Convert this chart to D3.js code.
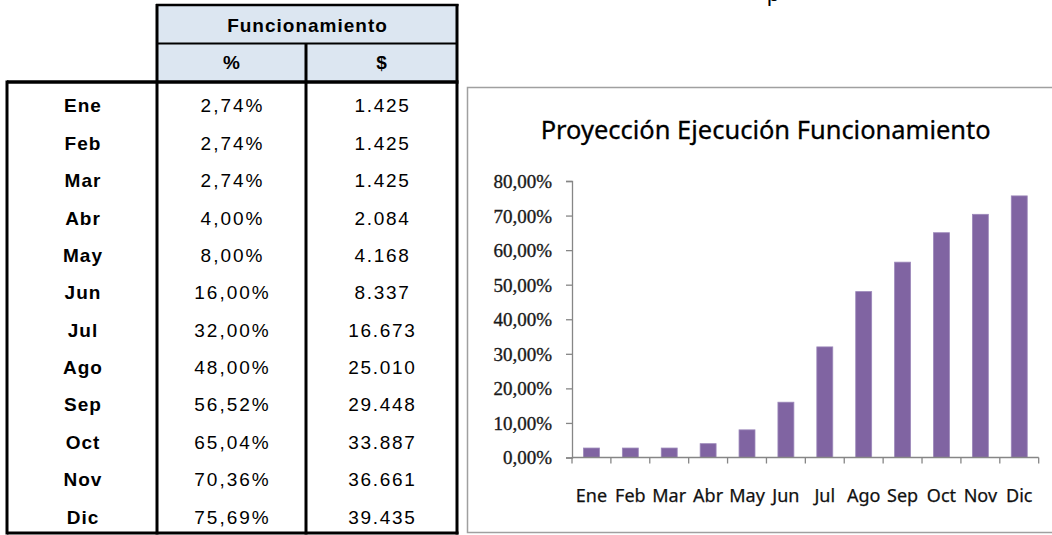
<!DOCTYPE html>
<meta charset="utf-8">
<script src="https://d3js.org/d3.v7.min.js"></script>
<style>
  body { margin: 0; background: #fff; }
  .tbl text { font-family: 'Liberation Sans', Arial, sans-serif; font-size: 19px; fill: #000; }
  .ylab text { font-family: 'Liberation Serif', serif; font-size: 19px; fill: #1a1a1a; stroke: #1a1a1a; stroke-width: 0.35px; }
</style>
<body>
<div id="my_dataviz"></div>
<script>

var months  = ["Ene", "Feb", "Mar", "Abr", "May", "Jun", "Jul", "Ago", "Sep", "Oct", "Nov", "Dic"];
var pct     = [2.74, 2.74, 2.74, 4.00, 8.00, 16.00, 32.00, 48.00, 56.52, 65.04, 70.36, 75.69];
var amount  = [1425, 1425, 1425, 2084, 4168, 8337, 16673, 25010, 29448, 33887, 36661, 39435];
var yTicks  = [0, 10, 20, 30, 40, 50, 60, 70, 80];
var header  = "Funcionamiento";
var subHead = ["%", "$"];
var title   = "Proyección Ejecución Funcionamiento";

// spanish number format: 2,74  /  1.425
var es = d3.formatLocale({decimal: ",", thousands: ".", grouping: [3], currency: ["$", ""]});
var fPct = function(v) { return es.format(".2f")(v) + "%"; };
var fAmt = es.format(",.0f");

var svg = d3.select("#my_dataviz")
  .append("svg")
    .attr("width", 1052)
    .attr("height", 535);

// ---------------- table ----------------
var tbl = svg.append("g").attr("class", "tbl");

var colX = [7, 157, 306, 457];   // column borders
var row = d3.scaleBand().domain(months).range([80, 528.5]);

// header fill
tbl.append("rect")
  .attr("x", colX[1]).attr("y", 5)
  .attr("width", colX[3] - colX[1]).attr("height", 77)
  .attr("fill", "#dce6f1");

tbl.append("text")
  .attr("x", (colX[1] + colX[3]) / 2 + 0.5).attr("y", 32)
  .attr("text-anchor", "middle")
  .style("font-weight", "bold").style("letter-spacing", "1px")
  .text(header);

tbl.selectAll(".sub")
  .data(subHead)
  .enter().append("text")
    .attr("x", function(d, i) { return (colX[i + 1] + colX[i + 2]) / 2; })
    .attr("y", 68.5)
    .attr("text-anchor", "middle")
    .style("font-weight", "bold")
    .text(function(d) { return d; });

// body rows
var rows = tbl.selectAll(".row")
  .data(months)
  .enter().append("g")
    .attr("transform", function(d) { return "translate(0," + (row(d) + row.bandwidth() - 5) + ")"; });

rows.append("text")
  .attr("x", (colX[0] + colX[1]) / 2 + 1)
  .attr("text-anchor", "middle")
  .style("font-weight", "bold").style("letter-spacing", "1px")
  .text(function(d) { return d; });

rows.append("text")
  .attr("x", (colX[1] + colX[2]) / 2 + 1)
  .attr("text-anchor", "middle")
  .style("letter-spacing", "2px")
  .text(function(d, i) { return fPct(pct[i]); });

rows.append("text")
  .attr("x", (colX[2] + colX[3]) / 2 + 1)
  .attr("text-anchor", "middle")
  .style("letter-spacing", "1.7px")
  .text(function(d, i) { return fAmt(amount[i]); });

// borders
var lines = [
  [colX[0], 82, colX[3] + 1.5, 82, 3.5],
  [colX[0], 533, colX[3] + 1.5, 533, 3],
  [colX[1] - 1, 5, colX[3] + 1.5, 5, 2.5],
  [colX[1], 43.5, colX[3], 43.5, 2],
  [colX[0], 80.5, colX[0], 534.5, 3],
  [colX[1], 4, colX[1], 534.5, 3],
  [colX[2], 43.5, colX[2], 534.5, 3],
  [colX[3], 4, colX[3], 534.5, 3]
];
tbl.selectAll(".border")
  .data(lines)
  .enter().append("line")
    .attr("x1", function(d) { return d[0]; })
    .attr("y1", function(d) { return d[1]; })
    .attr("x2", function(d) { return d[2]; })
    .attr("y2", function(d) { return d[3]; })
    .attr("stroke", "#000")
    .attr("stroke-width", function(d) { return d[4]; });

// cut-off letter at the top of the page (only its descender shows)
svg.append("text")
  .attr("x", 773).attr("y", 0.5)
  .attr("text-anchor", "middle")
  .style("font-family", "'Liberation Sans', Arial, sans-serif")
  .style("font-size", "22px")
  .text("p");

// ---------------- chart ----------------
svg.append("rect")
  .attr("x", 467.5).attr("y", 87.5)
  .attr("width", 620).attr("height", 445)
  .attr("fill", "#fff")
  .attr("stroke", "#a0a0a0")
  .attr("stroke-width", 1.5);

svg.append("text")
  .attr("x", 765.7).attr("y", 138.5)
  .attr("text-anchor", "middle")
  .attr("textLength", 450)
  .attr("lengthAdjust", "spacingAndGlyphs")
  .style("font-family", "'Noto Sans', 'Open Sans', sans-serif")
  .style("font-size", "26px")
  .style("fill", "#000")
  .style("stroke", "#000")
  .style("stroke-width", "0.3px")
  .text(title);

var x = d3.scaleBand()
  .domain(months)
  .range([572, 1038.7])
  .paddingInner(0.59)
  .paddingOuter(0.295);

var y = d3.scaleLinear()
  .domain([0, 80])
  .range([457.5, 181]);

// Y axis
var yAxis = svg.append("g")
  .attr("class", "ylab")
  .attr("transform", "translate(572,0)")
  .call(d3.axisLeft(y).tickValues(yTicks).tickSize(6).tickPadding(14).tickFormat(fPct));
yAxis.selectAll("path, line").attr("stroke", "#868686").attr("stroke-width", 1.3);
yAxis.selectAll("text").attr("dy", "0.34em");
yAxis.attr("font-family", null).attr("font-size", null);

// bars
svg.append("g")
  .selectAll("rect")
  .data(months)
  .enter().append("rect")
    .attr("x", function(d) { return x(d); })
    .attr("y", function(d, i) { return y(pct[i]); })
    .attr("width", x.bandwidth())
    .attr("height", function(d, i) { return y(0) - y(pct[i]); })
    .attr("fill", "#8064a2")
    .attr("stroke", "#9c88ba")
    .attr("stroke-width", 0.8);

// X axis: line, ticks between categories, labels
var xr = x.range();
var xg = svg.append("g");
xg.append("line")
  .attr("x1", xr[0]).attr("x2", xr[1])
  .attr("y1", y(0)).attr("y2", y(0))
  .attr("stroke", "#868686").attr("stroke-width", 1.3);
xg.selectAll(".tick")
  .data(d3.range(months.length + 1))
  .enter().append("line")
    .attr("x1", function(i) { return xr[0] + i * x.step(); })
    .attr("x2", function(i) { return xr[0] + i * x.step(); })
    .attr("y1", y(0)).attr("y2", y(0) + 6)
    .attr("stroke", "#868686").attr("stroke-width", 1.3);
xg.selectAll(".lab")
  .data(months)
  .enter().append("text")
    .attr("x", function(d) { return x(d) + x.bandwidth() / 2; })
    .attr("y", 502)
    .attr("text-anchor", "middle")
    .style("font-family", "'Noto Sans', 'Open Sans', sans-serif")
    .style("font-size", "18px")
    .style("fill", "#111")
    .style("stroke", "#111")
    .style("stroke-width", "0.25px")
    .text(function(d) { return d; });

</script>
</body>
